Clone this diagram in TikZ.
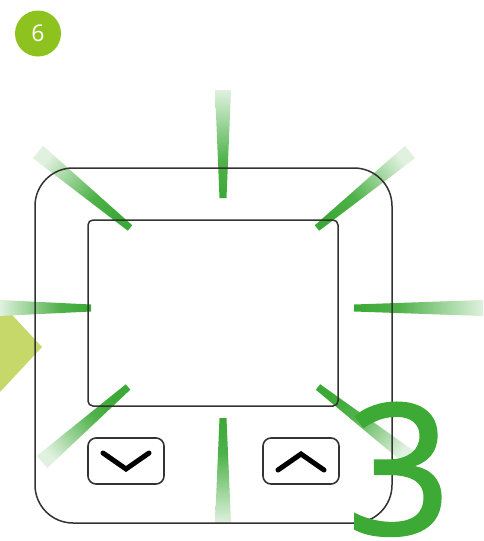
\documentclass[tikz,border=0pt]{standalone}
\usepackage{fontspec}
\setmainfont{Open Sans}
\newfontfamily\bignumfont{Open Sans}[FakeBold=1.6]
\usetikzlibrary{calc}
\definecolor{raygreen}{HTML}{3BA935}
\definecolor{bignum}{HTML}{3DAA35}
\definecolor{badge}{HTML}{8DC21F}
\definecolor{tri}{HTML}{C6D86A}
\definecolor{frame}{HTML}{333333}
\pgfdeclarehorizontalshading{rayshade}{100bp}{color(0bp)=(raygreen); color(25bp)=(raygreen); color(42bp)=(raygreen!90); color(75bp)=(raygreen!16); color(100bp)=(raygreen!16)}
\newcommand{\myray}[3]{%
  \shade[shading=rayshade, shading angle=#3]
    ($(#1)!3.5pt!90:(#2)$) -- ($(#1)!3.5pt!-90:(#2)$) --
    ($(#2)!8pt!90:(#1)$) -- ($(#2)!8pt!-90:(#1)$) -- cycle;}
\tikzset{
  framebox/.style={draw=frame, line width=1.5pt},
  btnbox/.style={draw=frame, line width=1.6pt, rounded corners=8pt},
  chev/.style={draw=black, line width=5pt, line cap=round, line join=miter},
}
\begin{document}
\begin{tikzpicture}[x=1pt,y=-1pt]
\useasboundingbox (0,0) rectangle (483,541);
% left triangle
\fill[tri] (0,302) -- (42,347) -- (0,392) -- cycle;
% ray coordinates
\coordinate (tS) at (223,198); \coordinate (tF) at (223,90);
\coordinate (bS) at (223,418); \coordinate (bF) at (223,523);
\coordinate (lS) at (91,308);  \coordinate (lF) at (0,308);
\coordinate (rS) at (354,308); \coordinate (rF) at (483,308);
\coordinate (tlS) at (130,228); \coordinate (tlF) at (38,152);
\coordinate (trS) at (317,228); \coordinate (trF) at (410,152);
\coordinate (blS) at (128,387); \coordinate (blF) at (42,462);
\coordinate (brS) at (318,387); \coordinate (brF) at (410,458);
\myray{tS}{tF}{90}
\myray{bS}{bF}{270}
\myray{lS}{lF}{180}
\myray{rS}{rF}{0}
\myray{tlS}{tlF}{140.4}
\myray{trS}{trF}{39.3}
\myray{blS}{blF}{221.1}
\myray{brS}{brF}{322.3}
% device frame
\draw[framebox, rounded corners=38pt] (35,168) rectangle (392,523);
\draw[framebox, rounded corners=5pt] (88,220) rectangle (338,406);
% buttons
\node[btnbox, minimum width=76pt, minimum height=46pt, inner sep=0pt] (down) at (126,461) {};
\node[btnbox, minimum width=76pt, minimum height=46pt, inner sep=0pt] (up) at (301,461) {};
\draw[chev] ($(down.center)+(-23,-8)$) -- ($(down.center)+(0,8)$) -- ($(down.center)+(23,-8)$);
\draw[chev] ($(up.center)+(-23,9)$) -- ($(up.center)+(0,-7)$) -- ($(up.center)+(23,9)$);
% badge
\node[circle, fill=badge, minimum size=46pt, inner sep=0pt, text=white, font=\fontsize{23}{23}\selectfont] (step6) at (38,33.5) {6};
% big number
\node[anchor=base, inner sep=0pt, text=bignum, font=\bignumfont\fontsize{181}{181}\selectfont] (num3) at (399,534) {3};
\end{tikzpicture}
\end{document}
